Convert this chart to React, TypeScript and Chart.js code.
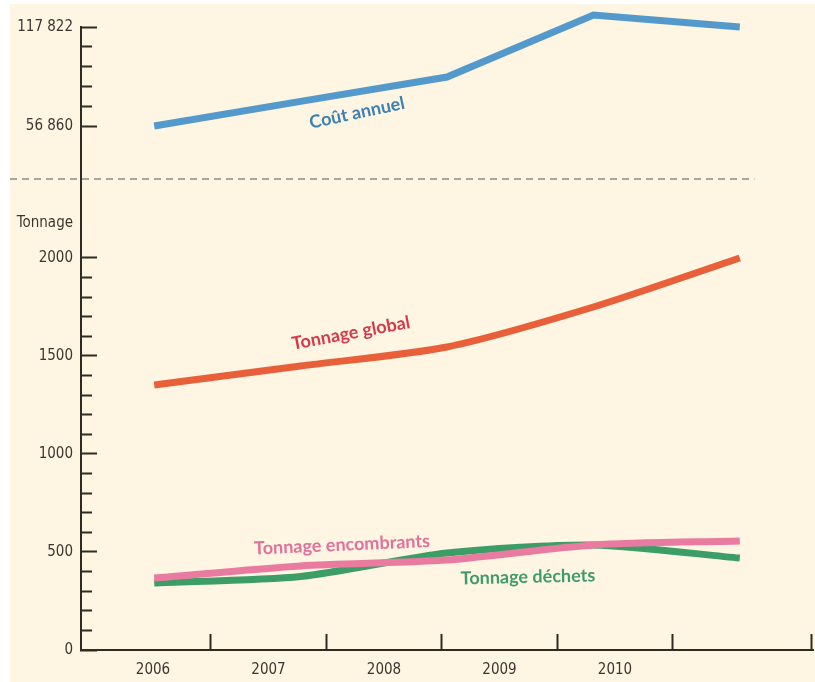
import React, { useEffect, useRef } from 'react';
import { Chart, registerables } from 'chart.js';

Chart.register(...registerables);

// ---- data ----
const years = [2006, 2007, 2008, 2009, 2010];
const coutAnnuel = [56860, 72000, 87000, 125200, 117822];
const tonnageGlobal = [1352, 1449, 1546, 1750, 2000];
const tonnageEncombrants = [367, 429, 459, 536, 556];
const tonnageDechets = [342, 375, 495, 536, 469];

// ---- tick labels ----
const coutTicks = [56860, 69052, 81245, 93437, 105630, 117822];
const coutLabelTicks = [56860, 117822];
const tonnageTicks = [0, 100, 200, 300, 400, 500, 600, 700, 800, 900, 1000, 1100, 1200, 1300, 1400, 1500, 1600, 1700, 1800, 1900, 2000];
const tonnageLabelTicks = [0, 500, 1000, 1500, 2000];
const tonnageTitle = 'Tonnage';
const tonnageTitleValue = 2180;
const xLabelYears = [2006, 2007, 2008, 2009, 2010];
const xTickMarks = [2006.5, 2007.5, 2008.5, 2009.5, 2010.5, 2011.7];

// ---- series labels (data-space anchors) ----
const seriesLabels = [
  { text: 'Coût annuel', axis: 'yc', x: 2007.385, y: 64865, angle: -12, color: '#3D80B3' },
  { text: 'Tonnage global', axis: 'yt', x: 2007.344, y: 1617, angle: -10.5, color: '#D63A4A' },
  { text: 'Tonnage encombrants', axis: 'yt', x: 2007.283, y: 536, angle: -2.5, color: '#E2709A' },
  { text: 'Tonnage déchets', axis: 'yt', x: 2008.553, y: 372, angle: -1.3, color: '#3E9C6C' },
];

const AXIS = '#2f2a22';
const TEXT = '#3b3631';
const CREAM = '#FEF5E2';
const NARROW = "'DejaVu Sans Condensed', 'Liberation Sans Narrow', sans-serif";
const LABEL_FONT = "Lato, 'Open Sans', sans-serif";

const fmt = (v: number) => String(v).replace(/\B(?=(\d{3})+(?!\d))/g, ' ');

const zeroPad = (s: any) => {
  s.paddingLeft = 0;
  s.paddingRight = 0;
  s.paddingTop = 0;
  s.paddingBottom = 0;
};

const decorPlugin = {
  id: 'decor',
  beforeDraw(chart: any) {
    const { ctx, width, height } = chart;
    ctx.save();
    ctx.fillStyle = '#ffffff';
    ctx.fillRect(0, 0, width, height);
    ctx.fillStyle = CREAM;
    ctx.fillRect(10, 4, width - 10, height - 4);
    ctx.restore();
  },
  afterDraw(chart: any) {
    const { ctx } = chart;
    const yt = chart.scales.yt;
    const xd = chart.scales.xd;
    ctx.save();
    // separator between the two panels
    ctx.strokeStyle = '#aaa59c';
    ctx.lineWidth = 2;
    ctx.setLineDash([7, 5]);
    ctx.beginPath();
    ctx.moveTo(10, yt.top);
    ctx.lineTo(xd.getPixelForValue(2010.1), yt.top);
    ctx.stroke();
    ctx.setLineDash([]);
    // series labels
    for (const l of seriesLabels) {
      const px = xd.getPixelForValue(l.x);
      const py = chart.scales[l.axis].getPixelForValue(l.y);
      ctx.save();
      ctx.translate(px, py);
      ctx.rotate((l.angle * Math.PI) / 180);
      ctx.font = `bold 18px ${LABEL_FONT}`;
      ctx.fillStyle = l.color;
      ctx.textAlign = 'center';
      ctx.textBaseline = 'middle';
      ctx.fillText(l.text, 0, 0);
      ctx.restore();
    }
    ctx.restore();
  },
};

const toPoints = (vals: number[]) => years.map((y, i) => ({ x: y, y: vals[i] }));

const lineDs = (label: string, vals: number[], axis: string, color: string, tension: number) => ({
  label,
  data: toPoints(vals),
  xAxisID: 'xd',
  yAxisID: axis,
  borderColor: color,
  borderWidth: 7,
  tension,
  pointRadius: 0,
  clip: false as any,
});

export default function App() {
  const ref = useRef<HTMLCanvasElement>(null);

  useEffect(() => {
    if (!ref.current) return;
    const chart = new Chart(ref.current, {
      type: 'line',
      data: {
        datasets: [
          lineDs('Coût annuel', coutAnnuel, 'yc', '#5499CC', 0),
          lineDs('Tonnage global', tonnageGlobal, 'yt', '#E8603A', 0.25),
          lineDs('Tonnage encombrants', tonnageEncombrants, 'yt', '#E97BA0', 0.25),
          lineDs('Tonnage déchets', tonnageDechets, 'yt', '#3C9E66', 0.25),
        ],
      },
      options: {
        responsive: false,
        animation: false,
        devicePixelRatio: 1,
        layout: { padding: { top: 27, right: 2, left: 0, bottom: 0 } },
        plugins: { legend: { display: false }, tooltip: { enabled: false } },
        scales: {
          xd: {
            type: 'linear',
            display: false,
            min: 2005.5,
            max: 2010.5,
          },
          xl: {
            type: 'linear',
            position: 'bottom',
            min: 2005.377,
            max: 2011.714,
            afterBuildTicks: (s: any) => {
              s.ticks = [...xLabelYears, ...xTickMarks].sort((a, b) => a - b).map((v) => ({ value: v }));
            },
            afterFit: (s: any) => {
              s.height = 32;
              zeroPad(s);
            },
            border: { display: true, color: AXIS, width: 2 },
            grid: {
              drawOnChartArea: false,
              drawTicks: true,
              tickLength: -16,
              tickWidth: 2,
              tickColor: (c: any) => (xLabelYears.includes(c.tick?.value) ? 'transparent' : AXIS),
            },
            ticks: {
              autoSkip: false,
              maxRotation: 0,
              padding: 27,
              color: TEXT,
              font: { family: NARROW, size: 15 },
              callback: (v: any) => (xLabelYears.includes(Number(v)) ? String(v) : ''),
            },
          },
          yt: {
            type: 'linear',
            position: 'left',
            stack: 'panels',
            stackWeight: 471,
            min: 0,
            max: 2403,
            afterBuildTicks: (s: any) => {
              s.ticks = [...tonnageTicks, tonnageTitleValue].map((v) => ({ value: v }));
            },
            afterFit: (s: any) => {
              s.width = 81;
              zeroPad(s);
            },
            border: { display: true, color: AXIS, width: 2 },
            grid: {
              drawOnChartArea: false,
              drawTicks: true,
              tickLength: -16,
              tickWidth: 2,
              tickColor: (c: any) => (c.tick?.value === tonnageTitleValue ? 'transparent' : AXIS),
              tickBorderDash: (c: any) => (tonnageLabelTicks.includes(c.tick?.value) ? [] : [11, 5]),
              tickBorderDashOffset: (c: any) => (tonnageLabelTicks.includes(c.tick?.value) ? 0 : 11),
            },
            ticks: {
              autoSkip: false,
              padding: 24,
              color: TEXT,
              font: { family: NARROW, size: 15 },
              callback: (v: any) => {
                const n = Number(v);
                if (n === tonnageTitleValue) return tonnageTitle;
                return tonnageLabelTicks.includes(n) ? String(n) : '';
              },
            },
          },
          yc: {
            type: 'linear',
            position: 'left',
            stack: 'panels',
            stackWeight: 152,
            min: 24224,
            max: 117822,
            afterBuildTicks: (s: any) => {
              s.ticks = coutTicks.map((v) => ({ value: v }));
            },
            afterFit: (s: any) => {
              s.width = 81;
              zeroPad(s);
            },
            border: { display: true, color: AXIS, width: 2 },
            grid: {
              drawOnChartArea: false,
              drawTicks: true,
              tickLength: -16,
              tickWidth: 2,
              tickColor: AXIS,
              tickBorderDash: (c: any) => (coutLabelTicks.includes(c.tick?.value) ? [] : [11, 5]),
              tickBorderDashOffset: (c: any) => (coutLabelTicks.includes(c.tick?.value) ? 0 : 11),
            },
            ticks: {
              autoSkip: false,
              padding: 24,
              color: TEXT,
              font: { family: NARROW, size: 15 },
              callback: (v: any) => (coutLabelTicks.includes(Number(v)) ? fmt(Number(v)) : ''),
            },
          },
        },
      } as any,
      plugins: [decorPlugin],
    });
    return () => chart.destroy();
  }, []);

  return (
    <div style={{ position: 'fixed', left: 0, top: 0, width: 815, height: 682 }}>
      <canvas ref={ref} width={815} height={682} style={{ display: 'block' }} />
    </div>
  );
}
